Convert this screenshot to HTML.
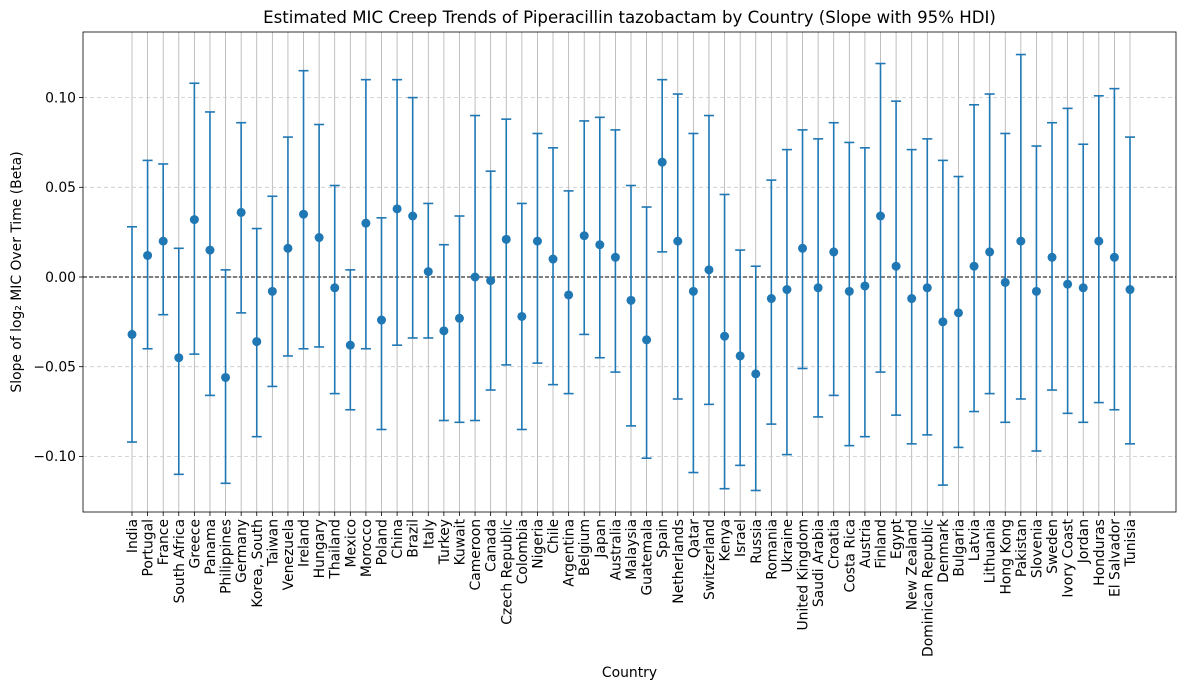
<!DOCTYPE html>
<html><head><meta charset="utf-8"><style>
body{margin:0;background:#fff;}
svg{display:block;font-family:"DejaVu Sans","Liberation Sans",sans-serif;}
</style></head><body>
<svg id="chart" width="1189" height="690" viewBox="0 0 1189 690" xmlns="http://www.w3.org/2000/svg"></svg>
<script>
const countries=["India","Portugal","France","South Africa","Greece","Panama","Philippines","Germany","Korea, South","Taiwan","Venezuela","Ireland","Hungary","Thailand","Mexico","Morocco","Poland","China","Brazil","Italy","Turkey","Kuwait","Cameroon","Canada","Czech Republic","Colombia","Nigeria","Chile","Argentina","Belgium","Japan","Australia","Malaysia","Guatemala","Spain","Netherlands","Qatar","Switzerland","Kenya","Israel","Russia","Romania","Ukraine","United Kingdom","Saudi Arabia","Croatia","Costa Rica","Austria","Finland","Egypt","New Zealand","Dominican Republic","Denmark","Bulgaria","Latvia","Lithuania","Hong Kong","Pakistan","Slovenia","Sweden","Ivory Coast","Jordan","Honduras","El Salvador","Tunisia"];
const slopes=[-0.032,0.012,0.020,-0.045,0.032,0.015,-0.056,0.036,-0.036,-0.008,0.016,0.035,0.022,-0.006,-0.038,0.030,-0.024,0.038,0.034,0.003,-0.030,-0.023,0.000,-0.002,0.021,-0.022,0.020,0.010,-0.010,0.023,0.018,0.011,-0.013,-0.035,0.064,0.020,-0.008,0.004,-0.033,-0.044,-0.054,-0.012,-0.007,0.016,-0.006,0.014,-0.008,-0.005,0.034,0.006,-0.012,-0.006,-0.025,-0.020,0.006,0.014,-0.003,0.020,-0.008,0.011,-0.004,-0.006,0.020,0.011,-0.007];
const hdiLow=[-0.092,-0.040,-0.021,-0.110,-0.043,-0.066,-0.115,-0.020,-0.089,-0.061,-0.044,-0.040,-0.039,-0.065,-0.074,-0.040,-0.085,-0.038,-0.034,-0.034,-0.080,-0.081,-0.080,-0.063,-0.049,-0.085,-0.048,-0.060,-0.065,-0.032,-0.045,-0.053,-0.083,-0.101,0.014,-0.068,-0.109,-0.071,-0.118,-0.105,-0.119,-0.082,-0.099,-0.051,-0.078,-0.066,-0.094,-0.089,-0.053,-0.077,-0.093,-0.088,-0.116,-0.095,-0.075,-0.065,-0.081,-0.068,-0.097,-0.063,-0.076,-0.081,-0.070,-0.074,-0.093];
const hdiHigh=[0.028,0.065,0.063,0.016,0.108,0.092,0.004,0.086,0.027,0.045,0.078,0.115,0.085,0.051,0.004,0.110,0.033,0.110,0.100,0.041,0.018,0.034,0.090,0.059,0.088,0.041,0.080,0.072,0.048,0.087,0.089,0.082,0.051,0.039,0.110,0.102,0.080,0.090,0.046,0.015,0.006,0.054,0.071,0.082,0.077,0.086,0.075,0.072,0.119,0.098,0.071,0.077,0.065,0.056,0.096,0.102,0.080,0.124,0.073,0.086,0.094,0.074,0.101,0.105,0.078];
const yTicks=[-0.10,-0.05,0.00,0.05,0.10];
const yTickLabels=["−0.10","−0.05","0.00","0.05","0.10"];

const NS="http://www.w3.org/2000/svg";
const svg=document.getElementById('chart');
const L=83,R=1176,T=32,B=512;
const n=countries.length;
function x(i){return 132+i*(1130-132)/(n-1);}
function y(v){return 277-v*1794;}
function mk(tag,attrs,name,parent){const e=document.createElementNS(NS,tag);for(const k in attrs)e.setAttribute(k,attrs[k]);(parent||svg).appendChild(e);return e;}
countries.forEach((c,i)=>{mk('line',{x1:x(i),x2:x(i),y1:T,y2:B,stroke:'#b0b0b0','stroke-width':0.8},'x-grid-line');});
yTicks.forEach(v=>{mk('line',{x1:L,x2:R,y1:y(v),y2:y(v),stroke:'#c8c8c8','stroke-width':0.8,'stroke-dasharray':'4,3'},'y-grid-line');});
mk('line',{x1:L,x2:R,y1:y(0),y2:y(0),stroke:'#000','stroke-width':1,'stroke-dasharray':'4,2'},'zero-line');
countries.forEach((c,i)=>{
 const g=mk('g',{},'errorbar-'+c.toLowerCase().replace(/[^a-z]+/g,'-'));
 const cx=x(i);
 mk('line',{x1:cx,x2:cx,y1:y(hdiLow[i]),y2:y(hdiHigh[i]),stroke:'#1f77b4','stroke-width':1.6},'hdi-bar',g);
 mk('line',{x1:cx-5,x2:cx+5,y1:y(hdiLow[i]),y2:y(hdiLow[i]),stroke:'#1f77b4','stroke-width':1.6},'hdi-cap-low',g);
 mk('line',{x1:cx-5,x2:cx+5,y1:y(hdiHigh[i]),y2:y(hdiHigh[i]),stroke:'#1f77b4','stroke-width':1.6},'hdi-cap-high',g);
 mk('circle',{cx:cx,cy:y(slopes[i]),r:4.5,fill:'#1f77b4'},'slope-point',g);
});
mk('rect',{x:L,y:T,width:R-L,height:B-T,fill:'none',stroke:'#000','stroke-width':0.8},'plot-frame');
yTicks.forEach((v,k)=>{
 mk('line',{x1:L-4,x2:L,y1:y(v),y2:y(v),stroke:'#000','stroke-width':0.8},'y-tick');
 const t=mk('text',{x:L-7,y:y(v)+4.8,'text-anchor':'end','font-size':13.9,fill:'#000'},'y-tick-label');t.textContent=yTickLabels[k];
});
countries.forEach((c,i)=>{
 mk('line',{x1:x(i),x2:x(i),y1:B,y2:B+4,stroke:'#000','stroke-width':0.8},'x-tick');
 const t=mk('text',{x:0,y:0,'text-anchor':'end','font-size':13.9,fill:'#000',transform:`translate(${x(i)+5},${B+7}) rotate(-90)`},'x-tick-label');t.textContent=c;
});
const title=mk('text',{x:(L+R)/2,y:23,'text-anchor':'middle','font-size':16.6,fill:'#000'},'chart-title');title.textContent="Estimated MIC Creep Trends of Piperacillin tazobactam by Country (Slope with 95% HDI)";
const xl=mk('text',{x:(L+R)/2,y:677,'text-anchor':'middle','font-size':13.9,fill:'#000'},'x-axis-title');xl.textContent="Country";
const yl=mk('text',{x:0,y:0,'text-anchor':'middle','font-size':13.9,fill:'#000',transform:`translate(21,${(T+B)/2}) rotate(-90)`},'y-axis-title');yl.textContent="Slope of log₂ MIC Over Time (Beta)";
</script>
</body></html>
